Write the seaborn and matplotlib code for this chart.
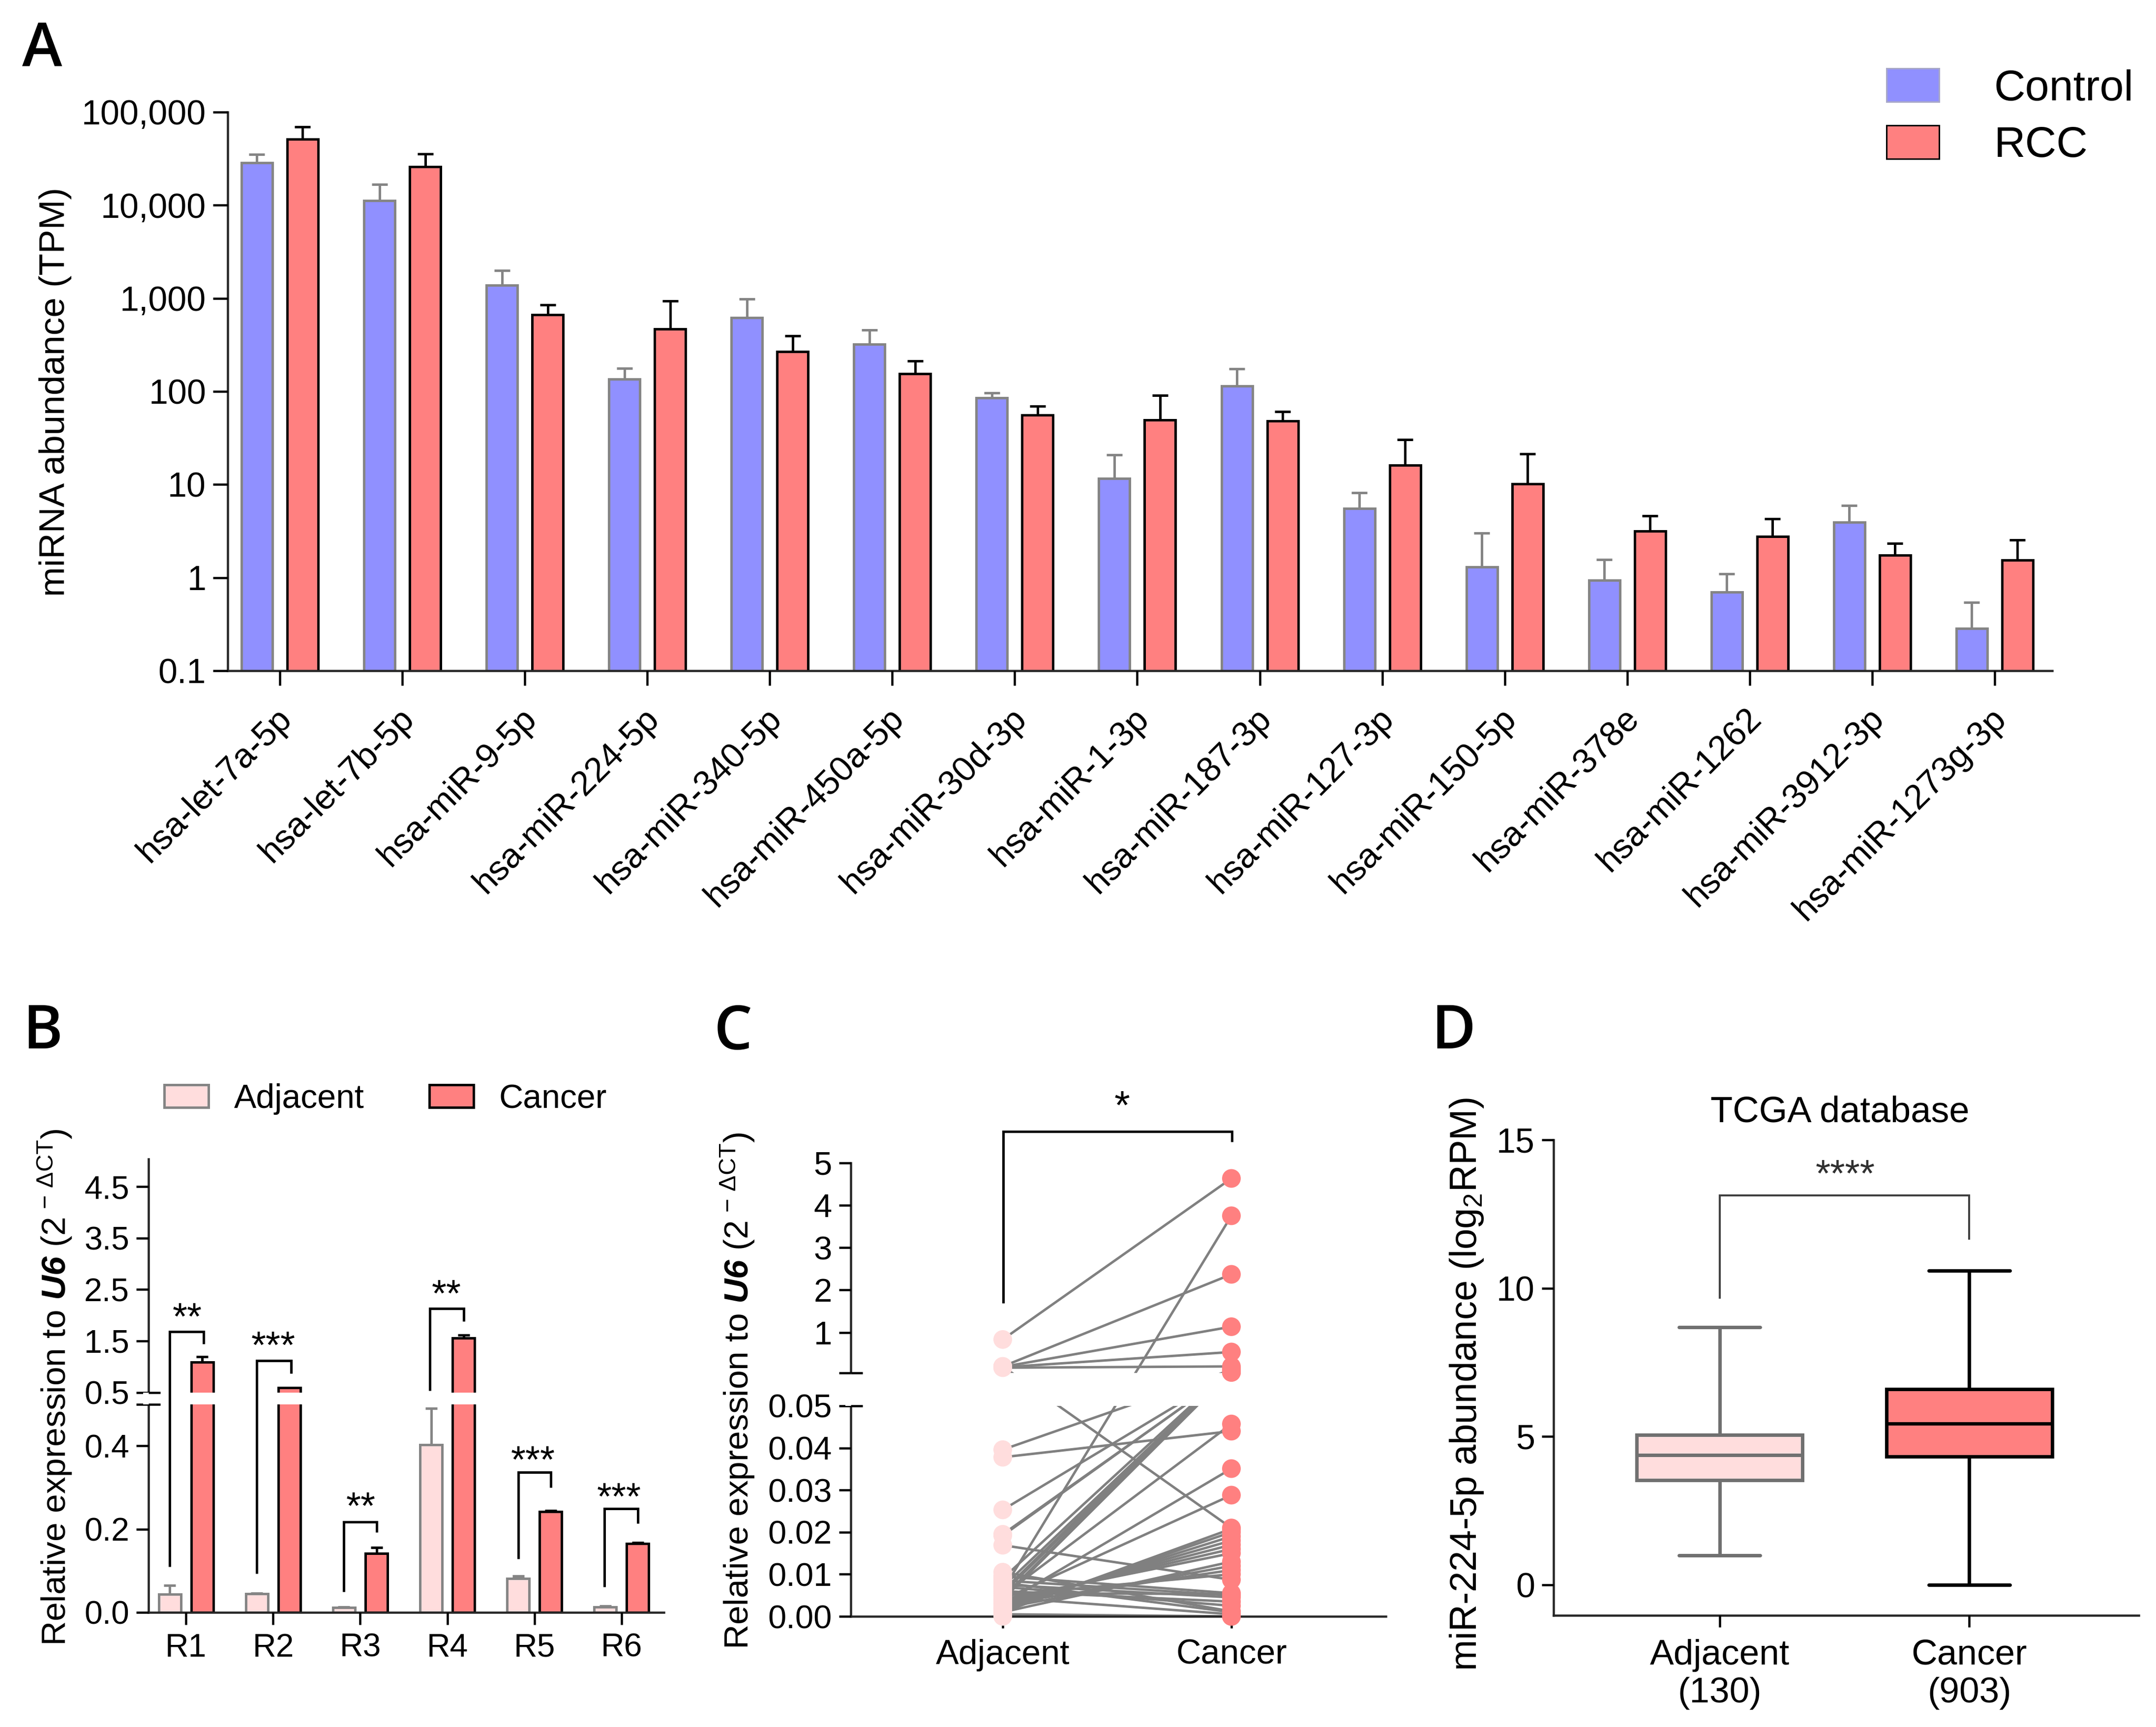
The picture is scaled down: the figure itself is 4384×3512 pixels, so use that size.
import numpy as np
import pandas as pd
import matplotlib
matplotlib.use("Agg")
import matplotlib.pyplot as plt
from matplotlib.lines import Line2D
from matplotlib.patches import Patch, Rectangle
from matplotlib.transforms import ScaledTranslation
import seaborn as sns

# ---------------- data ----------------
mirnas = ["hsa-let-7a-5p", "hsa-let-7b-5p", "hsa-miR-9-5p", "hsa-miR-224-5p", "hsa-miR-340-5p",
          "hsa-miR-450a-5p", "hsa-miR-30d-3p", "hsa-miR-1-3p", "hsa-miR-187-3p", "hsa-miR-127-3p",
          "hsa-miR-150-5p", "hsa-miR-378e", "hsa-miR-1262", "hsa-miR-3912-3p", "hsa-miR-1273g-3p"]
control_vals = [28700, 11270, 1375, 135.5, 619, 321, 85, 11.6, 115, 5.5, 1.30, 0.94, 0.70, 3.92, 0.284]
control_upper = [35100, 16700, 2000, 177, 986, 458, 97, 20.9, 176, 8.2, 3.02, 1.56, 1.10, 5.94, 0.54]
rcc_vals = [51500, 25900, 670, 467, 269, 154, 55.7, 49.5, 48, 16.1, 10.2, 3.16, 2.76, 1.74, 1.54]
rcc_upper = [69800, 35500, 847, 938, 393, 213, 69.4, 90.5, 61, 30.2, 21.4, 4.63, 4.28, 2.33, 2.55]

samples = ["R1", "R2", "R3", "R4", "R5", "R6"]
adj_vals = [0.0434, 0.045, 0.011, 0.403, 0.0815, 0.012]
adj_upper = [0.064, 0.046, 0.012, 0.49, 0.0875, 0.0145]
can_vals = [1.09, 0.588, 0.142, 1.554, 0.2425, 0.165]
can_upper = [1.196, 0.592, 0.156, 1.613, 0.244, 0.168]

paired_adj = [0.835, 0.20, 0.19, 0.18, 0.17, 0.20, 0.0062, 0.0396, 0.0378, 0.0253, 0.0195, 0.0192,
              0.009, 0.007, 0.006, 0.0055, 0.0045, 0.004, 0.005, 0.003, 0.004,
              0.0169, 0.0095, 0.0085, 0.008, 0.0045, 0.0, 0.0005,
              0.001, 0.0015, 0.002, 0.0025, 0.003, 0.0035, 0.004, 0.001, 0.002, 0.003, 0.005,
              0.0055, 0.006, 0.007, 0.0075, 0.0105]
paired_can = [4.63, 2.37, 1.136, 0.54, 0.20, 0.021, 3.75, 0.12, 0.044, 0.06, 0.06, 0.07,
              0.15, 0.13, 0.11, 0.10, 0.09, 0.08, 0.0457, 0.0351, 0.0288,
              0.0087, 0.0055, 0.005, 0.001, 0.0005, 0.0, 0.0,
              0.0208, 0.02, 0.019, 0.018, 0.017, 0.016, 0.015, 0.013, 0.012, 0.011, 0.010,
              0.0053, 0.0035, 0.0025, 0.0045, 0.0012]

box_groups = ["Adjacent\n(130)", "Cancer\n(903)"]
box_adjacent = [0.99, 3.53, 4.38, 5.05, 8.68]
box_cancer = [0.0, 4.32, 5.44, 6.59, 10.59]

# ---------------- layout helpers ----------------
W, H = 4384, 3512
DPI = 300
pt = lambda px: px * 72 / DPI

sns.set_theme(style="ticks")
plt.rcParams["font.family"] = ["Liberation Sans", "DejaVu Sans"]
plt.rcParams["mathtext.fontset"] = "custom"
plt.rcParams["mathtext.rm"] = "Liberation Sans"
plt.rcParams["mathtext.it"] = "Liberation Sans:italic"
plt.rcParams["mathtext.bf"] = "Liberation Sans:italic:bold"
plt.rcParams["mathtext.default"] = "regular"
plt.rcParams["axes.linewidth"] = pt(4.5)
plt.rcParams["text.color"] = "black"

BLUE, RED, PINK = "#9090FF", "#FF8080", "#FFDDDD"
GREY = "#858585"

fig = plt.figure(figsize=(W / DPI, H / DPI), dpi=DPI, facecolor="white")


def axes_px(l, t, r, b):
    return fig.add_axes([l / W, 1 - b / H, (r - l) / W, (b - t) / H])


def fx(x):
    return x / W


def fy(y):
    return 1 - y / H


def ftext(x, y, s, em, **kw):
    return fig.text(fx(x), fy(y), s, fontsize=pt(em), **kw)


def bracket(xl, yl, ytop, xr, yr, color="black", lw=5):
    fig.add_artist(Line2D([fx(xl), fx(xl), fx(xr), fx(xr)], [fy(yl), fy(ytop), fy(ytop), fy(yr)],
                          transform=fig.transFigure, color=color, lw=pt(lw),
                          solid_joinstyle="miter", solid_capstyle="butt", zorder=6))


def stars(xc, yc, s, em=77, **kw):
    ftext(xc, yc + 0.49 * em, s, em, ha="center", va="baseline", zorder=7, **kw)


def style_ticks(ax, em, length=28, width=4.5, pad=14):
    ax.tick_params(axis="both", which="major", length=pt(length), width=pt(width), labelsize=pt(em),
                   pad=pt(pad), direction="out", color="black", labelcolor="black")
    ax.tick_params(axis="both", which="minor", length=0)
    ax.set_axisbelow(False)
    ax.patch.set_alpha(0)
    sns.despine(ax=ax)
    ax.set_xlabel("")
    ax.set_ylabel("")


def upper_errors(ax, container, upper, color, lw, cap_px):
    xs = [r.get_x() + r.get_width() / 2 for r in container]
    ys = [r.get_y() + r.get_height() for r in container]
    ax.errorbar(xs, ys, yerr=[np.zeros(len(ys)), np.array(upper) - np.array(ys)], fmt="none",
                ecolor=color, elinewidth=pt(lw), capsize=pt(cap_px / 2), capthick=pt(lw), zorder=1.5)


def broken_scale(brk, k1, gap, k2):
    """Piecewise-linear scale with a blank band just above brk."""
    def forward(y):
        y = np.asarray(y, dtype=float)
        return np.where(y <= brk, y * k1, brk * k1 + gap + (y - brk) * k2)

    def inverse(z):
        z = np.asarray(z, dtype=float)
        h = brk * k1
        return np.where(z <= h, z / k1, np.where(z >= h + gap, brk + (z - h - gap) / k2, brk))
    return forward, inverse


def gap_band(ax, frac_lo, frac_hi, stub_axes):
    ax.add_patch(Rectangle((-0.01, frac_lo), 1.02, frac_hi - frac_lo, transform=ax.transAxes,
                           facecolor="white", edgecolor="none", zorder=2.8, clip_on=False))
    for f in (frac_lo, frac_hi):
        ax.plot([0, stub_axes], [f, f], transform=ax.transAxes, color="black", lw=pt(4.5),
                clip_on=False, zorder=3, solid_capstyle="butt")


# ---------------- panel A ----------------
axA = axes_px(463, 228, 4173, 1364)
dfA = pd.DataFrame({"miRNA": mirnas * 2,
                    "value": control_vals + rcc_vals,
                    "group": ["Control"] * len(mirnas) + ["RCC"] * len(mirnas)})
sns.barplot(data=dfA, x="miRNA", y="value", hue="group", order=mirnas, hue_order=["Control", "RCC"],
            palette={"Control": BLUE, "RCC": RED}, width=0.747, gap=0.323, saturation=1,
            errorbar=None, log_scale=True, legend=False, linewidth=pt(5), ax=axA)
axA.set_yscale("log", nonpositive="clip")
for cont, ec in zip(axA.containers, (GREY, "black")):
    for r in cont:
        r.set_edgecolor(ec)
upper_errors(axA, axA.containers[0], control_upper, GREY, 5, 32)
upper_errors(axA, axA.containers[1], rcc_upper, "black", 5, 32)
axA.set_ylim(0.1, 100000)
axA.set_xlim(-0.4255, 14.47)
axA.set_yticks([0.1, 1, 10, 100, 1000, 10000, 100000],
               ["0.1", "1", "10", "100", "1,000", "10,000", "100,000"])
axA.set_xticks(range(len(mirnas)), mirnas)
style_ticks(axA, 70, length=30)
axA.tick_params(axis="x", pad=pt(34))
shift = ScaledTranslation(-10 / DPI, 0, fig.dpi_scale_trans)
for lab in axA.get_xticklabels():
    lab.set_rotation(45)
    lab.set_ha("right")
    lab.set_va("top")
    lab.set_rotation_mode("anchor")
    lab.set_fontsize(pt(70))
    lab.set_transform(lab.get_transform() + shift)
ftext(113, 797, "miRNA abundance (TPM)", 73, rotation=90, ha="center", va="center")
fig.legend(handles=[Patch(facecolor=BLUE, edgecolor="#A8A8C8", lw=pt(3), label="Control"),
                    Patch(facecolor=RED, edgecolor="black", lw=pt(3), label="RCC")],
           loc="upper left", bbox_to_anchor=(fx(3836), fy(139)), frameon=False, fontsize=pt(88),
           handlelength=1.216, handleheight=0.818, handletextpad=1.27, labelspacing=0.375, borderpad=0,
           borderaxespad=0)

# ---------------- panel B ----------------
axB = axes_px(301.8, 2357, 1350, 3278.6)
axB.set_yscale("function", functions=broken_scale(0.5, 845.2, 24.4, 104.5))
dfB = pd.DataFrame({"sample": samples * 2, "value": adj_vals + can_vals,
                    "group": ["Adjacent"] * 6 + ["Cancer"] * 6})
sns.barplot(data=dfB, x="sample", y="value", hue="group", order=samples, hue_order=["Adjacent", "Cancer"],
            palette={"Adjacent": PINK, "Cancer": RED}, width=0.746, gap=0.32, saturation=1,
            errorbar=None, legend=False, linewidth=pt(5), ax=axB)
for cont, ec in zip(axB.containers, (GREY, "black")):
    for r in cont:
        r.set_edgecolor(ec)
upper_errors(axB, axB.containers[0], adj_upper, GREY, 5, 24)
upper_errors(axB, axB.containers[1], can_upper, "black", 5, 24)
axB.set_ylim(0, 5.04)
axB.set_xlim(-0.432, 5.487)
axB.set_yticks([0, 0.2, 0.4, 0.5, 0.500001, 1.5, 2.5, 3.5, 4.5],
               ["0.0", "0.2", "0.4", "", "0.5", "1.5", "2.5", "3.5", "4.5"])
axB.set_xticks(range(6), samples)
style_ticks(axB, 66, length=25)
axB.tick_params(axis="x", pad=pt(17))
gap_band(axB, 422.6 / 921.6, 447 / 921.6, 0.023)
ftext(112, 2821, r"Relative expression to $\mathbf{U6}$ (2$^{\,-\,\Delta CT}$)", 69.5,
      rotation=90, ha="center", va="center")
fig.legend(handles=[Patch(facecolor=PINK, edgecolor=GREY, lw=pt(5), label="Adjacent"),
                    Patch(facecolor=RED, edgecolor="black", lw=pt(5), label="Cancer")],
           loc="upper left", bbox_to_anchor=(fx(334), fy(2203)), frameon=False, fontsize=pt(68), ncol=2,
           handlelength=1.32, handleheight=0.66, handletextpad=0.76, columnspacing=1.96, borderpad=0,
           borderaxespad=0)
for b in [(345.4, 3186, 2708, 414, 2733), (522, 3200, 2767, 592, 2793), (699, 3237, 3095, 766, 3116),
          (874, 2828, 2661, 943, 2687), (1054, 3170, 2994, 1120, 3025), (1228.5, 3227, 3068, 1297, 3098)]:
    bracket(*b)
for s, x, y in [("**", 381, 2666), ("***", 556, 2724), ("**", 734, 3051), ("**", 908, 2619),
                ("***", 1084, 2957), ("***", 1259, 3032)]:
    stars(x, y, s)

# ---------------- panel C ----------------
axC = axes_px(1730, 2364.5, 2817.8, 3287)
axC.set_yscale("function", functions=broken_scale(0.05, 8560.0, 67.3, 86.3))
n_pairs = len(paired_adj)
dfC = pd.DataFrame({"pair": list(range(n_pairs)) * 2,
                    "pos": [0] * n_pairs + [1] * n_pairs,
                    "value": paired_adj + paired_can})
sns.lineplot(data=dfC, x="pos", y="value", units="pair", estimator=None, color="#808080",
             linewidth=pt(5), legend=False, ax=axC, zorder=2)
sns.scatterplot(data=dfC, x="pos", y="value", hue="pos", palette={0: PINK, 1: RED}, s=pt(38) ** 2,
                linewidth=0, legend=False, ax=axC, zorder=4, clip_on=False)
axC.set_ylim(0, 5)
axC.set_xlim(-0.6645, 1.675)
axC.set_yticks([0, 0.01, 0.02, 0.03, 0.04, 0.05, 1, 2, 3, 4, 5],
               ["0.00", "0.01", "0.02", "0.03", "0.04", "0.05", "1", "2", "3", "4", "5"])
axC.set_xticks([0, 1], ["Adjacent", "Cancer"])
style_ticks(axC, 67, length=24)
axC.tick_params(axis="x", labelsize=pt(70), pad=pt(22))
gap_band(axC, 428 / 922.5, 495.3 / 922.5, 0.022)
axC.plot([-24 / 1087.8, 0], [495.3 / 922.5, 495.3 / 922.5], transform=axC.transAxes, color="black",
         lw=pt(4.5), clip_on=False, zorder=3, solid_capstyle="butt")
ftext(1500, 2828, r"Relative expression to $\mathbf{U6}$ (2$^{\,-\,\Delta CT}$)", 69.5,
      rotation=90, ha="center", va="center")
bracket(2040, 2650, 2300.5, 2504.6, 2322)
stars(2282, 2234, "*", em=82)

# ---------------- panel D ----------------
axD = axes_px(3159, 2318, 4348.7, 3284.5)
dfD = pd.DataFrame({"group": [box_groups[0]] * 5 + [box_groups[1]] * 5,
                    "value": box_adjacent + box_cancer})
for grp, fc, lc in [(box_groups[0], PINK, "#707070"), (box_groups[1], RED, "black")]:
    sns.boxplot(data=dfD[dfD["group"] == grp], x="group", y="value", order=box_groups, whis=(0, 100),
                width=0.665, color=fc, linecolor=lc, linewidth=pt(7), saturation=1, fliersize=0,
                capwidths=0.325, ax=axD)
axD.set_ylim(-1.02, 15)
axD.set_xlim(-0.665, 1.678)
axD.set_yticks([0, 5, 10, 15], ["0", "5", "10", "15"])
axD.set_xticks([0, 1], box_groups)
style_ticks(axD, 70, length=24)
axD.tick_params(axis="x", labelsize=pt(73), pad=pt(24))
ftext(3741, 2262, "TCGA database", 74, ha="center", va="center")
ftext(2982, 2815, r"miR-224-5p abundance (log$_{2}$RPM)", 76, rotation=90, ha="center", va="center")
bracket(3496.6, 2641, 2431, 4004, 2521, color="#404040", lw=4)
stars(3752, 2374, "****", em=78, color="#303030")

# ---------------- panel letters ----------------
for s, x, y in [("A", 45, 134), ("B", 46, 2132), ("C", 1452, 2134), ("D", 2910, 2132)]:
    ftext(x, y, s, 123, family=["Open Sans", "DejaVu Sans"], weight=600, ha="left", va="baseline")

fig.savefig("out.png", dpi=DPI, facecolor="white")
